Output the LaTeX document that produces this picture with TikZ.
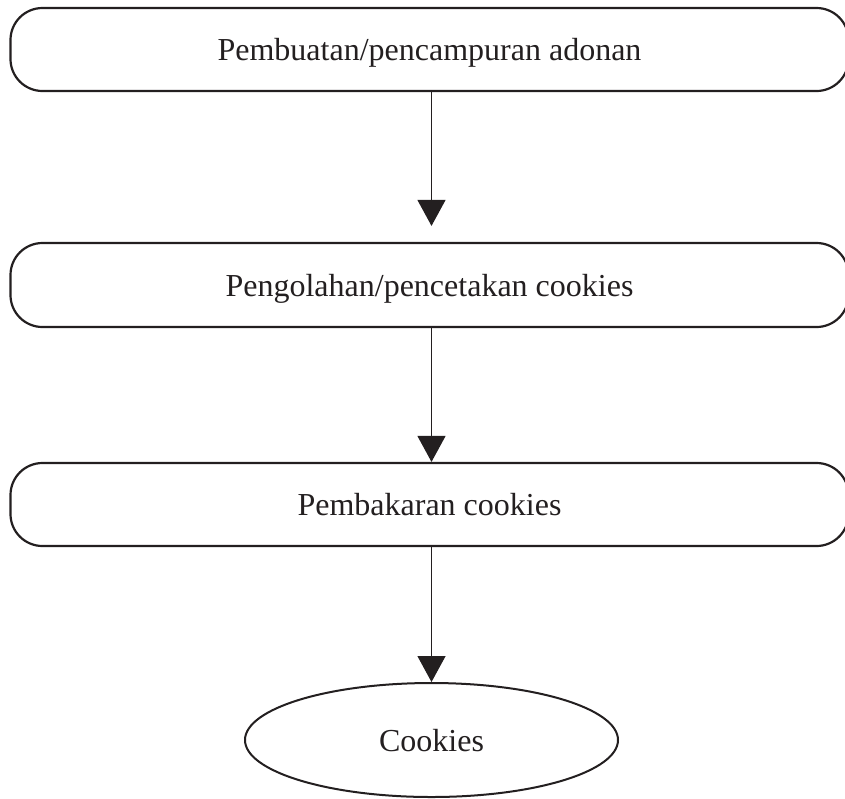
\documentclass[tikz,border=0pt]{standalone}
\usepackage{fontspec}
\setmainfont{Liberation Serif}
\usetikzlibrary{arrows.meta,positioning,shapes.geometric}
\definecolor{CkInk}{RGB}{35,31,32}
\tikzset{
  ck/box/.style={
    draw=CkInk,
    line width=1.1pt,
    rounded corners=16pt,
    fill=white,
    align=center,
    text=CkInk,
    minimum width=419pt,
    minimum height=41.5pt,
    inner sep=0pt,
    text depth=0pt,
    font=\fontsize{16}{19}\selectfont
  },
  ck/end/.style={
    ellipse,
    draw=CkInk,
    line width=1pt,
    fill=white,
    align=center,
    text=CkInk,
    minimum width=186.5pt,
    minimum height=57pt,
    inner sep=0pt,
    text depth=0pt,
    font=\fontsize{16}{19}\selectfont
  },
  ck/arrow/.style={-{Triangle[length=13pt,width=14pt]}, line width=0.6pt, draw=CkInk, fill=CkInk}
}
\begin{document}
\begin{tikzpicture}[x=0.5pt,y=-0.5pt]
  \useasboundingbox (0,0) rectangle (845,798);
  \node[ck/box] (mix) at (429.5,49.5) {Pembuatan/pencampuran adonan};
  \node[ck/box,minimum height=42pt] (shape) at (429.5,285) {Pengolahan/pencetakan cookies};
  \node[ck/box] (bake) at (429.5,504.5) {Pembakaran cookies};
  \node[ck/end] (cookies) at (431.5,740) {Cookies};
  \draw[ck/arrow,shorten >=8pt] (mix.south -| cookies.north) -- (shape.north -| cookies.north);
  \draw[ck/arrow] (shape.south -| cookies.north) -- (bake.north -| cookies.north);
  \draw[ck/arrow] (bake.south -| cookies.north) -- (cookies.north);
\end{tikzpicture}
\end{document}
